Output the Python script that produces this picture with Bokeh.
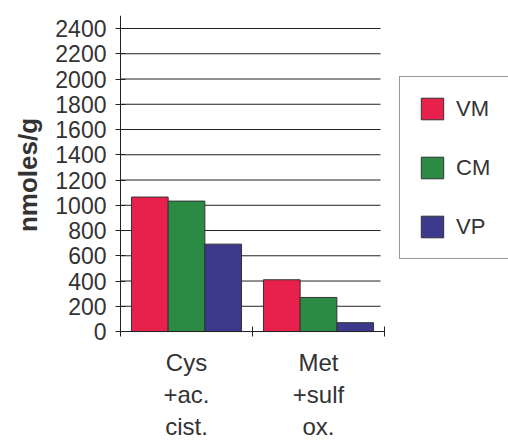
import math
from bokeh.plotting import figure
from bokeh.models import FixedTicker, Range1d, Legend, LegendItem, ColumnDataSource
from bokeh.core.properties import value
from bokeh.embed import file_html
from bokeh.resources import INLINE

categories = ["Cys\n+ac.\ncist.", "Met\n+sulf\nox."]
series = ["VM", "CM", "VP"]
vm = [1065, 410]
cm = [1033, 270]
vp = [692, 70]
colors = ["#e8204c", "#2b8a44", "#3b3a8c"]
y_ticks = list(range(0, 2401, 200))
y_title = "nmoles/g"

n = len(categories)
cat_px = 132.0  # pixels per category
p = figure(width=508, height=441, output_backend="svg", toolbar_location=None,
           x_range=Range1d(-120 / cat_px, 388 / cat_px), y_range=Range1d(-871, 2503),
           min_border_left=0, min_border_right=0, min_border_top=15, min_border_bottom=0)
p.outline_line_color = None
p.background_fill_color = None
p.border_fill_color = "white"

# horizontal gridlines only over the category span
p.segment(x0=[0] * len(y_ticks), x1=[n - 0.03] * len(y_ticks), y0=y_ticks, y1=y_ticks,
          line_color="#222222", line_width=1)

bw = 0.278
items = []
for j, (name, vals) in enumerate(zip(series, [vm, cm, vp])):
    xs = [i + 0.5 + (j - 1) * bw for i in range(n)]
    src = ColumnDataSource(dict(x=xs, top=vals))
    r = p.vbar(x="x", top="top", width=bw, source=src, fill_color=colors[j],
               line_color="#333333", line_width=1)
    items.append(LegendItem(label=name, renderers=[r]))

# y axis, drawn at x = 0 inside the frame
p.yaxis.fixed_location = 0
p.yaxis.bounds = (0, 2503)
p.yaxis.ticker = FixedTicker(ticks=y_ticks)
p.yaxis.major_tick_in = 5
p.yaxis.major_tick_out = 5
p.yaxis.minor_tick_line_color = None
p.yaxis.axis_line_color = "#222222"
p.yaxis.major_tick_line_color = "#222222"
p.yaxis.major_label_text_font = "Liberation Sans"
p.yaxis.major_label_text_font_size = "23px"
p.yaxis.major_label_text_color = "#333333"
p.yaxis.major_label_standoff = 9

# y axis title
p.text(x=[-0.70], y=[(y_ticks[0] + y_ticks[-1]) / 2 + 40], text=[y_title], angle=math.pi / 2,
       text_align="center", text_baseline="middle",
       text_font=value("Liberation Sans"), text_font_style="bold",
       text_font_size="26px", text_color="#333333")

# x axis, drawn at y = 0 inside the frame
p.xaxis.fixed_location = 0
p.xaxis.bounds = (0, n)
p.xaxis.ticker = FixedTicker(ticks=[i + 0.5 for i in range(n)], minor_ticks=list(range(n + 1)))
p.xaxis.major_label_overrides = {i + 0.5: c for i, c in enumerate(categories)}
p.xaxis.major_tick_line_color = None
p.xaxis.major_tick_in = 0
p.xaxis.major_tick_out = 0
p.xaxis.minor_tick_in = 5
p.xaxis.minor_tick_out = 5
p.xaxis.minor_tick_line_color = "#222222"
p.xaxis.axis_line_color = "#222222"
p.xaxis.major_label_text_font = "Liberation Sans"
p.xaxis.major_label_text_font_size = "24px"
p.xaxis.major_label_text_color = "#333333"
p.xaxis.major_label_text_line_height = 1.2
p.xaxis.major_label_standoff = 12

p.xgrid.grid_line_color = None
p.ygrid.grid_line_color = None

legend = Legend(items=items, location=(399, 182), orientation="vertical",
                padding=18, spacing=32, glyph_width=28, glyph_height=27,
                label_standoff=10, label_text_font="Liberation Sans",
                label_text_font_size="22px", label_text_color="#333333",
                border_line_color="#333333", border_line_width=1,
                background_fill_color="white", background_fill_alpha=1,
                margin=0)
p.add_layout(legend, "center")

open("out.html", "w").write(file_html(p, INLINE))
